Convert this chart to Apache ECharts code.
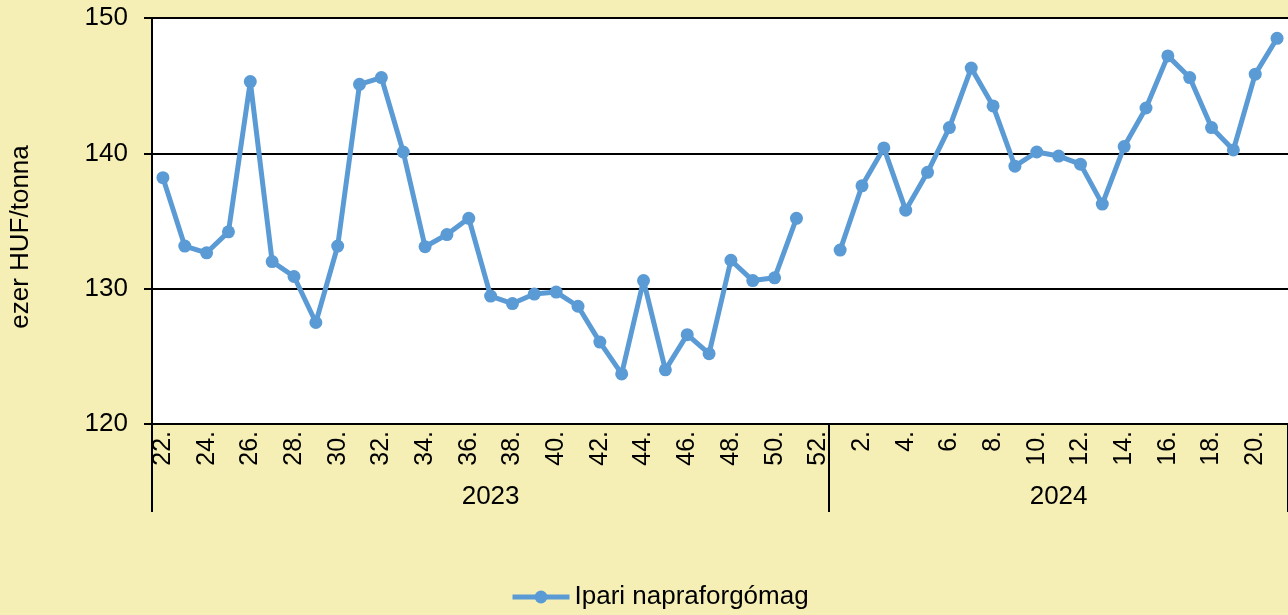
<!DOCTYPE html>
<html>
<head>
<meta charset="utf-8">
<script src="https://cdn.jsdelivr.net/npm/echarts@6/dist/echarts.min.js"></script>
<style>
html,body{margin:0;padding:0;background:#F5EFB5;}
#c{width:1288px;height:615px;}
</style>
</head>
<body>
<div id="c"></div>
<script>
const years = ['2023', '2024'];
const weeks2023 = [22,23,24,25,26,27,28,29,30,31,32,33,34,35,36,37,38,39,40,41,42,43,44,45,46,47,48,49,50,51,52];
const weeks2024 = [1,2,3,4,5,6,7,8,9,10,11,12,13,14,15,16,17,18,19,20,21];
const values2023 = [138.2,133.15,132.65,134.2,145.3,132.0,130.9,127.5,133.15,145.1,145.6,140.1,133.1,134.0,135.2,129.45,128.9,129.6,129.75,128.7,126.05,123.7,130.6,124.0,126.6,125.2,132.1,130.6,130.8,135.2,null];
const values2024 = [132.85,137.6,140.4,135.8,138.6,141.9,146.3,143.5,139.05,140.1,139.8,139.2,136.25,140.5,143.35,147.2,145.6,141.9,140.25,145.85,148.5];
const yTicks = [120, 130, 140, 150];
const seriesName = 'Ipari napraforgómag';
const yTitle = 'ezer HUF/tonna';

const categories = weeks2023.map(w => w + '.').concat(weeks2024.map(w => w + '.'));
const values = values2023.concat(values2024);
const groupSizes = [weeks2023.length, weeks2024.length];
const groupStarts = [0, weeks2023.length];
const yearMid = {};
groupSizes.forEach((n, g) => { yearMid[groupStarts[g] + Math.floor(n / 2)] = years[g]; });

const font = '"Liberation Sans", Arial, sans-serif';
const chart = echarts.init(document.getElementById('c'));
chart.setOption({
  backgroundColor: '#F5EFB5',
  textStyle: { fontFamily: font },
  grid: { left: 152, right: 0, top: 18, bottom: 191, show: true, backgroundColor: '#ffffff', borderWidth: 0, containLabel: false, outerBoundsMode: 'none' },
  legend: {
    top: 584, left: 510, padding: 0,
    itemWidth: 57, itemHeight: 16, itemGap: 6,
    lineStyle: { width: 5 },
    textStyle: { fontSize: 26, color: '#000', fontFamily: font },
    data: [seriesName]
  },
  xAxis: [
    {
      type: 'category', data: categories, boundaryGap: true,
      axisLine: { show: true, lineStyle: { color: '#000', width: 2 } },
      axisTick: { show: false },
      axisLabel: { interval: 1, rotate: 90, fontSize: 25, color: '#000', margin: 7, fontFamily: font }
    },
    {
      type: 'category', data: categories, boundaryGap: true, position: 'bottom', offset: 0,
      axisLine: { show: false },
      axisTick: {
        show: true, length: 88, inside: false,
        interval: function (idx) { return groupStarts.indexOf(idx) >= 0; },
        lineStyle: { color: '#000', width: 2 }
      },
      axisLabel: {
        interval: 0, margin: 60, fontSize: 26, color: '#000', fontFamily: font,
        formatter: function (v, idx) { return yearMid[idx] || ''; }
      }
    }
  ],
  yAxis: {
    type: 'value', min: yTicks[0], max: yTicks[yTicks.length - 1], interval: 10,
    name: yTitle, nameLocation: 'middle', nameRotate: 90, nameGap: 131,
    nameTextStyle: { fontSize: 26, color: '#000', fontFamily: font, verticalAlign: 'middle', padding: [0, 32, 0, 0] },
    axisLine: { show: true, lineStyle: { color: '#000', width: 2 } },
    axisTick: { show: true, length: 8, lineStyle: { color: '#000', width: 2 } },
    axisLabel: { fontSize: 26, color: '#000', margin: 24, fontFamily: font },
    splitLine: { show: true, lineStyle: { color: '#000', width: 2 } }
  },
  series: [{
    name: seriesName, type: 'line', data: values, connectNulls: false,
    symbol: 'circle', symbolSize: 13, showSymbol: true,
    lineStyle: { color: '#5B9BD5', width: 5 },
    itemStyle: { color: '#5B9BD5' },
    animation: false
  }]
});
</script>
</body>
</html>
